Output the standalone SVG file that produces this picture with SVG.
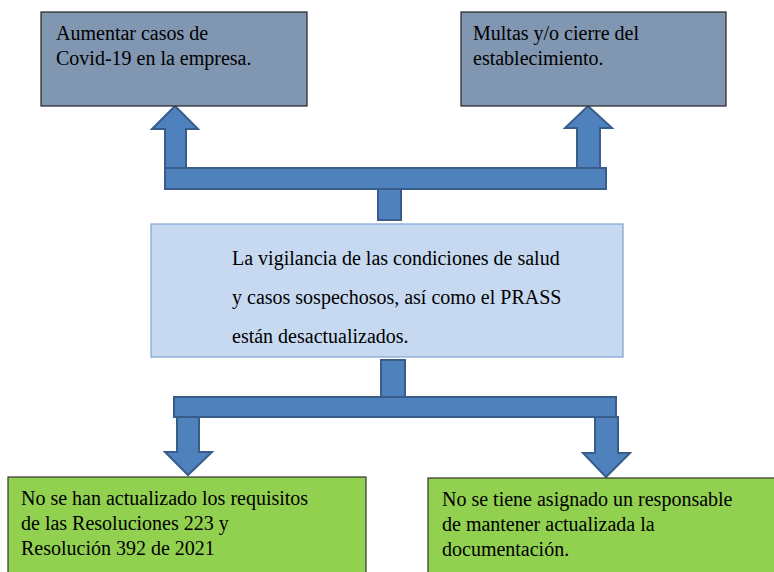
<svg xmlns="http://www.w3.org/2000/svg" width="774" height="572" viewBox="0 0 774 572">
<style>
.top{fill:#8096b1;stroke:#222;stroke-width:1.2}
.mid{fill:#c6d9f1;stroke:#7ea3d3;stroke-width:1.2}
.bot{fill:#92d050;stroke:#333;stroke-width:1.2}
</style>
<rect width="774" height="572" fill="#fff"/>
<g id="connectors" fill="#4f81bd" stroke="#385d8a" stroke-width="2">
<path d="M175 106 L198 129 L186 129 L186 168 L165 168 L165 129 L152 129 Z"/>
<path d="M588 106 L612 128 L600 128 L600 168 L577 168 L577 128 L565 128 Z"/>
<rect x="165" y="168" width="441" height="21"/>
<rect x="378" y="189" width="23" height="31"/>
<rect x="381" y="360" width="24" height="37"/>
<rect x="174" y="397" width="442" height="20"/>
<path d="M177 417 L199 417 L199 452 L212 452 L188 475 L165 452 L177 452 Z"/>
<path d="M595 417 L618 417 L618 453 L630 453 L606 477 L583 453 L595 453 Z"/>
</g>
<g id="covid">
<rect class="top" x="41" y="12" width="266" height="94"/>
<text x="56" y="40" font-family="Times New Roman" font-size="20">Aumentar casos de</text>
<text x="56" y="65" font-family="Times New Roman" font-size="20">Covid-19 en la empresa.</text>
</g>
<g id="multas">
<rect class="top" x="461" y="12" width="265" height="94"/>
<text x="473" y="40" font-family="Times New Roman" font-size="20">Multas y/o cierre del</text>
<text x="473" y="65" font-family="Times New Roman" font-size="20">establecimiento.</text>
</g>
<g id="vigilancia">
<rect class="mid" x="151" y="224" width="472" height="133"/>
<text x="232" y="265" font-family="Times New Roman" font-size="20">La vigilancia de las condiciones de salud</text>
<text x="232" y="304" font-family="Times New Roman" font-size="20">y casos sospechosos, así como el PRASS</text>
<text x="232" y="343" font-family="Times New Roman" font-size="20">están desactualizados.</text>
</g>
<g id="requisitos">
<rect class="bot" x="8" y="477" width="358" height="100"/>
<text x="21" y="505" font-family="Times New Roman" font-size="20">No se han actualizado los requisitos</text>
<text x="21" y="530" font-family="Times New Roman" font-size="20">de las Resoluciones 223 y</text>
<text x="21" y="555" font-family="Times New Roman" font-size="20">Resolución 392 de 2021</text>
</g>
<g id="responsable">
<rect class="bot" x="428" y="478" width="352" height="100"/>
<text x="442" y="506" font-family="Times New Roman" font-size="20">No se tiene asignado un responsable</text>
<text x="442" y="531" font-family="Times New Roman" font-size="20">de mantener actualizada la</text>
<text x="442" y="556" font-family="Times New Roman" font-size="20">documentación.</text>
</g>
</svg>
